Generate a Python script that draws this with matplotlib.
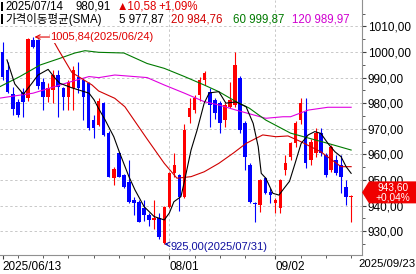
import matplotlib
matplotlib.use('Agg')
import matplotlib.pyplot as plt
from matplotlib.patches import Polygon, Rectangle
from matplotlib.ticker import FixedLocator, FuncFormatter

plt.rcParams['font.family'] = ['Liberation Sans', 'Noto Sans CJK KR', 'DejaVu Sans']

# 일봉 데이터
opens = [1000.0, 993.0, 983.6, 980.6, 984.4, 981.9, 1004.8, 1004.5, 988.4, 982.5,
         985.2, 991.0, 985.8, 982.5, 985.8, 990.4, 989.1, 987.8, 973.4, 971.5,
         980.0, 968.2, 950.7, 960.4, 952.0, 949.3, 942.2, 941.5, 939.0, 936.3,
         934.5, 935.0, 925.3, 939.6, 952.6, 952.0, 943.5, 974.7, 977.3, 983.2,
         989.1, 984.5, 981.3, 980.0, 973.4, 978.6, 979.3, 989.7, 972.1, 955.9,
         941.0, 940.2, 950.7, 945.4, 941.0, 938.9, 953.9, 959.1, 964.3, 973.4,
         976.7, 957.8, 960.4, 968.2, 959.8, 953.9, 957.8, 955.9, 947.4, 943.2]
highs = [1004.0, 996.0, 986.5, 981.5, 986.0, 1005.3, 1005.84, 1005.0, 990.0, 987.8,
         993.0, 993.0, 986.5, 989.0, 994.5, 996.2, 990.0, 988.4, 975.4, 982.0,
         980.5, 969.0, 955.2, 961.0, 952.5, 957.8, 943.5, 942.0, 942.0, 937.0,
         942.0, 937.0, 940.0, 953.0, 960.4, 952.5, 972.0, 981.9, 983.0, 990.4,
         992.5, 986.0, 982.0, 981.0, 980.0, 988.4, 1000.1, 990.5, 973.0, 956.5,
         941.5, 950.5, 951.0, 947.0, 943.0, 950.5, 959.8, 965.0, 973.0, 981.9,
         981.9, 966.0, 970.2, 970.2, 960.4, 963.5, 959.8, 959.8, 950.0, 944.1]
lows = [989.0, 984.0, 975.4, 974.5, 974.7, 981.0, 1001.5, 985.5, 977.3, 980.6,
        980.0, 974.7, 977.3, 977.3, 977.3, 984.0, 973.4, 969.5, 966.3, 971.0,
        967.0, 951.0, 948.0, 951.0, 947.0, 941.0, 936.3, 933.5, 934.0, 932.0,
        931.0, 927.0, 925.0, 939.0, 951.0, 938.0, 943.0, 972.1, 976.0, 981.0,
        987.0, 970.8, 974.0, 968.2, 970.8, 978.0, 978.5, 968.2, 953.9, 941.0,
        933.7, 937.6, 944.5, 940.9, 937.0, 937.0, 952.0, 958.0, 963.0, 972.0,
        954.6, 955.9, 959.0, 959.5, 951.3, 953.0, 952.0, 944.8, 940.2, 933.7]
closes = [990.4, 984.5, 977.7, 975.4, 980.6, 1005.1, 1002.1, 986.8, 982.5, 985.8,
          991.0, 986.4, 982.5, 988.4, 993.0, 985.8, 982.5, 970.2, 970.33, 980.91,
          967.6, 951.3, 954.2, 951.3, 947.4, 941.5, 940.9, 933.7, 936.5, 934.4,
          935.0, 927.9, 939.6, 952.6, 955.9, 943.5, 969.5, 978.0, 981.9, 989.1,
          991.7, 979.3, 976.0, 972.1, 979.3, 981.3, 994.9, 969.5, 959.1, 941.5,
          940.5, 950.0, 945.0, 944.1, 942.0, 950.0, 956.5, 964.3, 972.1, 980.0,
          956.5, 965.0, 968.2, 960.4, 952.0, 963.0, 952.6, 951.3, 943.2, 943.6]

# 이동평균선 (그림에서 읽은 위치, 봉 번호 기준)
ma5_x = [0.85, 2.4, 4.1, 5.8, 7.0, 9.0, 10.4, 11.3, 13.7, 17.1, 18.1, 19.0, 20.3,
         22.0, 23.2, 25.0, 26.2, 28.0, 30.0, 32.0, 33.0, 33.9, 35.3, 35.9, 37.3,
         38.5, 39.9, 40.9, 42.8, 44.2, 46.2, 48.2, 49.6, 50.6, 51.2, 52.1, 53.5,
         54.7, 55.7, 56.8, 57.9, 59.1, 60.5, 61.8, 63.0, 64.4, 65.8, 67.0, 68.0, 69.0]
ma5_y = [996.9, 987.5, 983.5, 987.8, 991.0, 993.2, 989.7, 987.8, 986.0, 983.9,
         981.3, 977.9, 973.4, 966.9, 960.4, 951.3, 946.1, 939.6, 935.7, 934.4,
         937.1, 941.5, 943.5, 948.7, 961.7, 969.5, 980.0, 984.0, 984.5, 980.0,
         980.5, 978.6, 972.1, 963.0, 952.6, 950.7, 944.8, 944.1, 946.7, 949.5,
         956.5, 964.3, 967.6, 968.9, 968.2, 964.3, 961.0, 959.1, 955.2, 952.6]
ma20_x = [9.4, 11.0, 13.7, 17.7, 19.0, 22.2, 24.2, 28.6, 32.0, 34.5, 37.3, 39.9,
          42.8, 45.6, 48.2, 51.5, 54.1, 56.5, 59.0, 63.0, 67.0, 69.0]
ma20_y = [1006.6, 1001.0, 992.0, 987.1, 984.76, 981.9, 978.6, 966.0, 956.5, 950.7,
          951.3, 953.2, 956.5, 960.4, 964.3, 967.6, 966.9, 967.2, 965.0, 961.0,
          955.2, 955.2]
ma60_x = [-0.5, 3.4, 7.4, 11.3, 14.3, 16.3, 19.0, 24.0, 28.6, 32.0, 36.0, 39.9,
          42.8, 46.2, 48.8, 52.1, 57.0, 60.5, 64.4, 69.0]
ma60_y = [986.5, 990.4, 994.9, 997.5, 999.6, 1000.5, 999.87, 999.6, 995.5, 993.6,
          990.4, 987.1, 984.5, 980.6, 978.1, 973.4, 968.3, 966.4, 964.3, 961.7]
ma120_x = [-0.5, 6.0, 13.7, 17.1, 19.0, 22.2, 28.6, 32.0, 36.0, 39.9, 42.8, 46.2,
           52.1, 55.5, 57.0, 60.5, 64.4, 69.0]
ma120_y = [982.0, 983.9, 988.5, 990.4, 989.97, 991.0, 990.0, 987.1, 983.9, 980.6,
           979.3, 977.3, 974.1, 974.7, 974.7, 977.3, 978.4, 978.4]

y_ticks = [930, 940, 950, 960, 970, 980, 990, 1000, 1010]
x_minor = [3, 8, 13, 18, 23, 28, 38, 43, 48, 59, 64, 69]
x_major = [0, 33, 54]
x_labels = ['2025/06/13', '08/01', '09/02']

UP = '#ff0000'
DOWN = '#0000ff'

W, H = 416, 274
fig = plt.figure(figsize=(W / 100, H / 100), dpi=100)
ax = fig.add_axes([0, 19 / H, 362 / W, 255 / H])

# 격자
for v in y_ticks:
    ax.axhline(v, color='#c8c8c8', lw=0.7, dashes=(2.5, 2.5), zorder=0)
for v in x_major[1:]:
    ax.axvline(v, color='#c8c8c8', lw=0.7, dashes=(2.5, 2.5), zorder=0)

# 캔들
idx = list(range(len(opens)))
colors = [UP if c >= o else DOWN for o, c in zip(opens, closes)]
bottoms = [min(o, c) for o, c in zip(opens, closes)]
heights = [max(abs(c - o), 0.4) for o, c in zip(opens, closes)]
ax.vlines(idx, lows, highs, colors=colors, lw=0.8, zorder=2)
ax.bar(idx, heights, bottom=bottoms, width=0.7, color=colors, linewidth=0, zorder=3)

# 이동평균선
ax.plot(ma120_x, ma120_y, color='#e000e0', lw=0.8, zorder=4)
ax.plot(ma60_x, ma60_y, color='#007a00', lw=0.8, zorder=4)
ax.plot(ma20_x, ma20_y, color='#d00000', lw=0.8, zorder=4)
ax.plot(ma5_x, ma5_y, color='black', lw=0.8, zorder=5)

ax.set_xlim(-0.53, 71.15)
ax.set_ylim(920.7, 1020.3)

# 축
for s in ['left', 'top']:
    ax.spines[s].set_visible(False)
ax.spines['right'].set_color('#909090')
ax.spines['bottom'].set_color('#909090')
ax.yaxis.tick_right()
ax.yaxis.set_major_locator(FixedLocator(y_ticks))
ax.yaxis.set_minor_locator(FixedLocator([v + 5 for v in y_ticks] + [925]))
ax.yaxis.set_major_formatter(FuncFormatter(lambda v, p: f'{v:.2f}'.replace('.', ',')))
ax.tick_params(axis='y', which='major', length=3, pad=1, labelsize=8.5, colors='#404040',
               labelcolor='black')
ax.tick_params(axis='y', which='minor', length=2.5, colors='#404040')
ax.xaxis.set_major_locator(FixedLocator(x_major))
ax.xaxis.set_minor_locator(FixedLocator(x_minor))
ax.set_xticklabels(x_labels, ha='left')
ax.tick_params(axis='x', which='major', length=3, pad=1, labelsize=8.5, colors='#404040',
               labelcolor='black')
ax.tick_params(axis='x', which='minor', length=2, colors='#404040')
fig.text(358 / W, 1 - 264 / H, '2025/09/23', fontsize=8.2, va='center', ha='left')

# 최고/최저 표시
ax.annotate('1005,84(2025/06/24)', xy=(6.3, 1005.84), xytext=(9.4, 1005.84),
            color='#e00000', fontsize=8, va='center', ha='left',
            bbox=dict(boxstyle='square,pad=0.05', fc='white', ec='none'),
            arrowprops=dict(arrowstyle='->', color='#e00000', lw=0.8,
                            shrinkA=0, shrinkB=0), zorder=6)
ax.annotate('925,00(2025/07/31)', xy=(32, 925.0), xytext=(33.2, 923.9),
            color='#1010a0', fontsize=8, va='center', ha='left',
            arrowprops=dict(arrowstyle='->', color='#1010a0', lw=0.8,
                            shrinkA=0, shrinkB=0), zorder=6)

# 현재가 박스
fig.canvas.draw()
y_px = ax.transData.transform((0, closes[-1]))[1] + 4
box = [(362, y_px), (369, y_px + 11), (416, y_px + 11),
       (416, y_px - 11), (369, y_px - 11)]
fig.patches.append(Polygon([(x / W, y / H) for x, y in box], closed=True,
                           transform=fig.transFigure, fc='#f00000', ec='none'))
fig.text(393 / W, (y_px + 5.2) / H, '943,60', color='white', fontsize=7.3,
         ha='center', va='center')
fig.text(393 / W, (y_px - 5.2) / H, '+0,04%', color='white', fontsize=7.3,
         ha='center', va='center')

# 상단 정보
for yy in [6.5, 19]:
    fig.patches.append(Rectangle((0.5 / W, 1 - (yy + 4.5) / H), 2.5 / W, 9 / H,
                                 transform=fig.transFigure, fc='black', ec='none'))
hdr = [(5, 6.5, '2025/07/14', 'black'), (76, 6.5, '980,91', 'black'),
       (117, 6.5, '▲10,58', '#e00000'), (158, 6.5, '+1,09%', '#e00000'),
       (5, 19, '가격이동평균(SMA)', 'black'), (119, 19, '5 977,87', 'black'),
       (171, 19, '20 984,76', '#d00000'), (233, 19, '60 999,87', '#007a00'),
       (292, 19, '120 989,97', '#d000d0')]
for x, y, s, c in hdr:
    fig.text(x / W, 1 - y / H, s, color=c, fontsize=8.3, va='center', ha='left')

fig.savefig('out.png', dpi=100)
